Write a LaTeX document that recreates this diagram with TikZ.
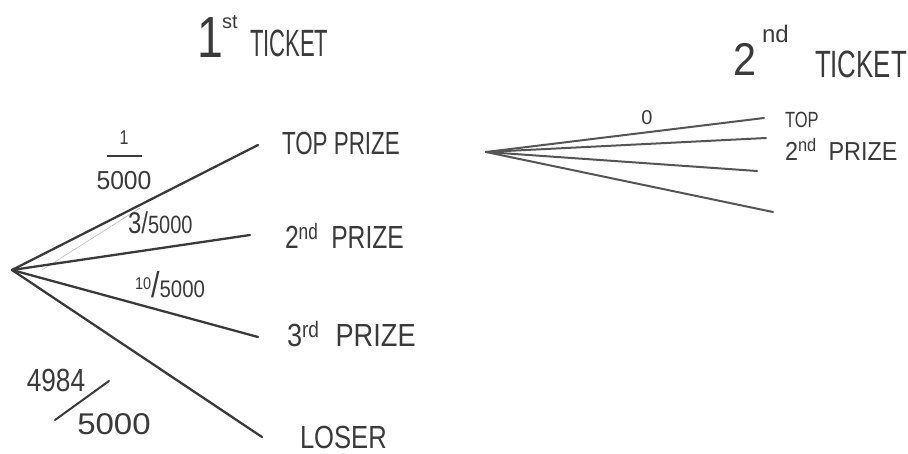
\documentclass[tikz,border=0pt]{standalone}
\usepackage{fontspec}
\setmainfont{Liberation Sans}
\definecolor{ink}{HTML}{3A3A3A}
\definecolor{inklight}{HTML}{555555}
\newcommand{\hw}[3]{{\fontsize{#1}{#1}\selectfont\scalebox{#2}[1]{#3}}}
\begin{document}
\begin{tikzpicture}[x=1pt,y=-1pt,
  branch/.style={draw=ink, line width=2.3pt, line cap=round},
  branchb/.style={draw=inklight, line width=2pt, line cap=round},
  faint/.style={draw=gray!55, line width=0.6pt, line cap=round},
  lbl/.style={inner sep=0pt, outer sep=0pt, anchor=west, text=ink},
  lblc/.style={inner sep=0pt, outer sep=0pt, anchor=center, text=ink}]
\fill[white] (0,0) rectangle (908,453);
\useasboundingbox (0,0) rectangle (908,453);

% headers
\node[lblc] (h1a) at (210,38) {\hw{58}{0.8}{1}};
\node[lbl] (h1b) at (222,22) {\hw{20}{1}{st}};
\node[lbl] (h1c) at (250,43) {\hw{38}{0.58}{TICKET}};
\node[lbl] (h2a) at (733,59) {\hw{46}{0.9}{2}};
\node[lbl] (h2b) at (762,34) {\hw{24}{1}{nd}};
\node[lbl] (h2c) at (815,64) {\hw{38}{0.68}{TICKET}};

% first tree
\coordinate (root1) at (12,270);
\coordinate (e1) at (258,145);
\coordinate (e2) at (250,235);
\coordinate (e3) at (258,337);
\coordinate (e4) at (262,437);
\coordinate (f1) at (42,270);
\coordinate (f2) at (140,208);
\draw[faint] (f1) -- (f2);
\draw[branch] (root1) -- (e1);
\draw[branch] (root1) -- (e2);
\draw[branch] (root1) -- (e3);
\draw[branch] (root1) -- (e4);

\node[lbl] (o1) at (282,143) {\hw{32}{0.7}{TOP PRIZE}};
\node[lbl] (o2) at (285,236) {\hw{32}{0.77}{2\textsuperscript{nd}\hspace{8pt} PRIZE}};
\node[lbl] (o3) at (287,334) {\hw{32}{0.85}{3\textsuperscript{rd}\hspace{10pt} PRIZE}};
\node[lbl] (o4) at (300,437) {\hw{32}{0.8}{LOSER}};

% probabilities
\node[lblc] (p1n) at (124,138) {\hw{20}{0.8}{1}};
\coordinate (bar1) at (107,156);
\coordinate (bar2) at (142,156);
\draw[draw=ink, line width=2pt] (bar1) -- (bar2);
\node[lblc] (p1d) at (124,181) {\hw{26}{0.95}{5000}};
\node[lbl] (p2) at (128,223) {\hw{30}{0.8}{3/\fontsize{25}{25}\selectfont 5000}};
\node[lbl] (p3) at (135,285) {\hw{24}{0.85}{{\fontsize{17}{17}\selectfont\raisebox{8pt}{10}}{\fontsize{36}{36}\selectfont /}5000}};
\node[lblc] (p4n) at (56,380) {\hw{32}{0.82}{4984}};
\node[lblc] (p4d) at (114,424) {\hw{30}{1.1}{5000}};
\coordinate (s1) at (55,420);
\coordinate (s2) at (109,381);
\draw[draw=ink, line width=2pt, line cap=round] (s1) -- (s2);

% second tree
\coordinate (root2) at (486,152);
\coordinate (r1) at (764,118);
\coordinate (r2) at (766,138);
\coordinate (r3) at (757,171);
\coordinate (r4) at (773,212);
\draw[branchb] (root2) -- (r1);
\draw[branchb] (root2) -- (r2);
\draw[branchb] (root2) -- (r3);
\draw[branchb] (root2) -- (r4);
\node[lblc] (z0) at (647,118) {\hw{20}{1}{0}};
\node[lbl] (q1) at (785,120) {\hw{22}{0.75}{TOP}};
\node[lbl] (q2) at (785,149) {\hw{26}{0.9}{2\textsuperscript{nd}\hspace{6pt} PRIZE}};
\end{tikzpicture}
\end{document}
